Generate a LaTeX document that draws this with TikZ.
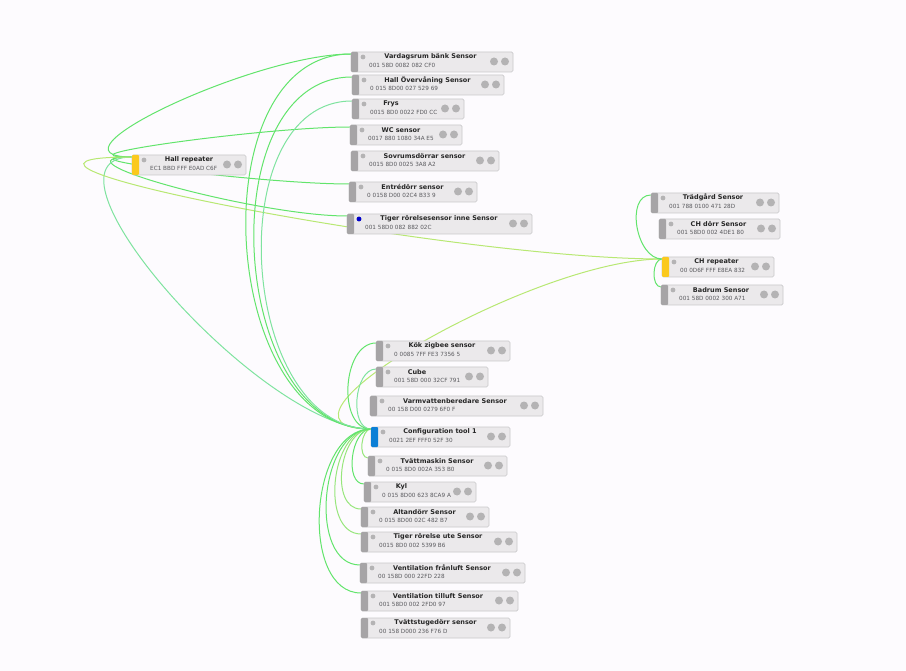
\documentclass[tikz,border=0pt]{standalone}
\usepackage{fontspec}
\usepackage{xcolor}
\usepackage{tikz}
\usetikzlibrary{calc,backgrounds}
\setmainfont{DejaVu Sans}
\definecolor{paper}{HTML}{FDFBFE}
\definecolor{boxfill}{HTML}{EBE9EB}
\definecolor{boxline}{HTML}{C9C8CA}
\definecolor{muted}{HTML}{A6A4A6}
\definecolor{dotgray}{HTML}{B4B3B4}
\definecolor{addrtext}{HTML}{5A5A5E}
\definecolor{repeater}{HTML}{FBC91E}
\definecolor{tool}{HTML}{0C7FD6}
\definecolor{green}{HTML}{62E46C}
\definecolor{teal}{HTML}{7FE39F}
\definecolor{lime}{HTML}{B8E873}
\definecolor{limegreen}{HTML}{97E67C}
\tikzset{
  devbox/.style={draw=boxline, fill=boxfill, rounded corners=1.5pt, line width=0.7pt,
    minimum height=20pt, inner sep=0pt, outer sep=0pt, anchor=north west},
  title/.style={font=\fontsize{6.5}{7}\selectfont\bfseries, text=black!85, inner sep=0pt},
  addr/.style={font=\fontsize{5.7}{7}\selectfont, text=addrtext, inner sep=0pt, anchor=west},
  wire/.style={draw=green, line width=1pt},
  wiret/.style={draw=teal, line width=1pt},
  wirel/.style={draw=lime, line width=1pt},
  wirem/.style={draw=limegreen, line width=1pt}
}
% bar colour, name, left, top, right, title centre, title, address
\newcommand{\device}[8][muted]{
  \node[devbox, minimum width=#5pt-#3pt] (#2) at (#3,#4) {};
  \fill[#1, rounded corners=1pt] (#3,#4) rectangle (#3+7,#4+20);
  \fill[dotgray] (#3+12,#4+5) circle (2.4pt);
  \fill[dotgray] (#5-19,#4+9.5) circle (4pt);
  \fill[dotgray] (#5-8,#4+9.5) circle (4pt);
  \node[title] (#2t) at (#6,#4+4.7) {#7};
  \node[addr] (#2a) at (#3+18,#4+13.7) {#8};
}
% style, from, to, bend
\newcommand{\wire}[4][wire]{
  \draw[#1] let \p1=([yshift=-2pt]#2.north west), \p2=([yshift=-2pt]#3.north west) in
    (\p1) .. controls (\x1-#4pt,\y1) and (\x2-#4pt,\y2) .. (\p2);
}
\begin{document}
\begin{tikzpicture}[x=1pt,y=-1pt]
  \useasboundingbox (0,0) rectangle (906,671);

  % upper group
  \device{vardag}{351}{52}{513}{430.5}{Vardagsrum bänk Sensor}{001 58D 0082 082 CF0}
  \device{hallov}{352}{75}{504}{427.5}{Hall Övervåning Sensor}{0 015 8D00 027 529 69}
  \device{frys}{352}{99}{464}{391}{Frys}{0015 8D0 0022 FD0 CC}
  \device{wc}{350}{125}{462}{401}{WC sensor}{0017 880 1080 34A E5}
  \device{sovrum}{351}{151}{499}{424.5}{Sovrumsdörrar sensor}{0015 8D0 0025 3A8 A2}
  \device{entre}{349}{182}{477}{412.5}{Entrédörr sensor}{0 0158 D00 02C4 B33 9}
  \device{tigerin}{347}{214}{532}{439}{Tiger rörelsesensor inne Sensor}{001 58D0 082 882 02C}
  \fill[blue!80!black] (359,219) circle (2.4pt);
  \device[repeater]{hall}{132}{155}{246}{189}{Hall repeater}{EC1 BBD FFF E0AD C6F}

  % right group
  \device{tradgard}{651}{193}{779}{713}{Trädgård Sensor}{001 788 0100 471 28D}
  \device{chdorr}{659}{219}{780}{718.5}{CH dörr Sensor}{001 58D0 002 4DE1 80}
  \device[repeater]{chrep}{662}{257}{774}{716.5}{CH repeater}{00 0D6F FFF E8EA 832}
  \device{badrum}{661}{285}{783}{721}{Badrum Sensor}{001 58D 0002 300 A71}

  % lower group
  \device{kok}{376}{341}{510}{442}{Kök zigbee sensor}{0 0085 7FF FE3 7356 5}
  \device{cube}{376}{367}{488}{417}{Cube}{001 58D 000 32CF 791}
  \device{varm}{370}{396}{543}{455}{Varmvattenberedare Sensor}{00 158 D00 0279 6F0 F}
  \device[tool]{config}{371}{427}{510}{440}{Configuration tool 1}{0021 2EF FFF0 52F 30}
  \device{tvatt}{368}{456}{507}{437}{Tvättmaskin Sensor}{0 015 8D0 002A 353 B0}
  \device{kyl}{364}{482}{476}{401.5}{Kyl}{0 015 8D00 623 8CA9 A}
  \device{altan}{361}{507}{489}{424.5}{Altandörr Sensor}{0 015 8D00 02C 482 B7}
  \device{tigerut}{361}{532}{517}{438}{Tiger rörelse ute Sensor}{0015 8D0 002 5399 B6}
  \device{ventfr}{360}{563}{525}{442}{Ventilation frånluft Sensor}{00 158D 000 22FD 228}
  \device{venttl}{361}{591}{518}{438}{Ventilation tilluft Sensor}{001 58D0 002 2FD0 97}
  \device{tvstug}{361}{618}{510}{435.5}{Tvättstugedörr sensor}{00 158 D000 236 F76 D}

  \begin{scope}[on background layer]
    \fill[paper] (0,0) rectangle (906,671);
    \wire{hall}{vardag}{96}
    \wire{hall}{wc}{85}
    \wire{hall}{entre}{85}
    \wire{hall}{tigerin}{90}
    \wire[wiret]{hall}{config}{110}
    \wire[wirel]{chrep}{hall}{210}
    \wire[wirel]{config}{chrep}{130}
    \wire{chrep}{tradgard}{26}
    \wire{chrep}{badrum}{10}
    \wire{config}{vardag}{153}
    \wire{config}{hallov}{143}
    \wire[wiret]{config}{frys}{133}
    \wire{config}{kok}{34}
    \wire[wiret]{config}{cube}{22}
    \wire[wirem]{config}{tvatt}{10}
    \wire{config}{kyl}{20}
    \wire[wirem]{config}{altan}{32}
    \wire[wirem]{config}{tigerut}{41}
    \wire{config}{ventfr}{52}
    \wire{config}{venttl}{62}
  \end{scope}
\end{tikzpicture}
\end{document}
